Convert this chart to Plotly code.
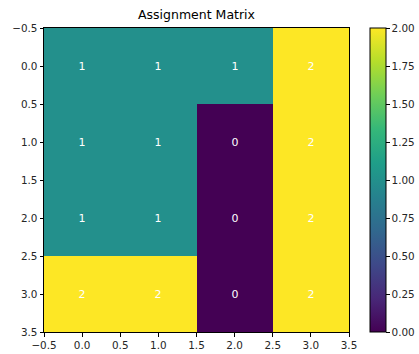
import plotly.graph_objects as go

cols = [0, 1, 2, 3]
rows = [0, 1, 2, 3]
assignment = [
    [1, 1, 1, 2],
    [1, 1, 0, 2],
    [1, 1, 0, 2],
    [2, 2, 0, 2],
]
title = "Assignment Matrix"

font = dict(family="DejaVu Sans", size=10.4, color="#262626")

fig = go.Figure(go.Heatmap(
    x=cols, y=rows, z=assignment,
    colorscale="Viridis", zmin=0, zmax=2,
    texttemplate="%{z}", textfont=dict(color="white", size=11, family="DejaVu Sans"),
    colorbar=dict(
        x=(370 - 44) / 305, xanchor="left", xpad=0, ypad=0,
        y=0.5, yanchor="middle", len=1, lenmode="fraction",
        thickness=16, outlinewidth=1, outlinecolor="black",
        tickmode="linear", tick0=0, dtick=0.25, tickformat=".2f",
        ticks="outside", ticklen=3.5, tickcolor="black",
        tickfont=font,
    ),
    hoverinfo="skip",
))

axis_common = dict(
    showgrid=False, zeroline=False, showline=True, linecolor="black",
    linewidth=1, mirror=True, ticks="outside", ticklen=3.5, tickcolor="black",
    tickmode="linear", tick0=-0.5, dtick=0.5, tickformat=".1f", tickfont=font,
    automargin=False,
)
fig.update_xaxes(range=[-0.5, 3.5], **axis_common)
fig.update_yaxes(range=[3.5, -0.5], **axis_common)

fig.update_layout(
    width=419, height=354,
    margin=dict(l=44, r=70, t=28, b=22, autoexpand=False),
    paper_bgcolor="white", plot_bgcolor="white",
    title=dict(text=title, x=(44 + 349) / 2 / 419, xanchor="center",
               y=1 - 15 / 354, yanchor="middle",
               font=dict(family="DejaVu Sans", size=12.5, color="black")),
)

fig.write_html(
    "out.html",
    config={"displayModeBar": False},
    post_script="document.body.style.margin='0px';document.body.style.overflow='hidden';",
)
